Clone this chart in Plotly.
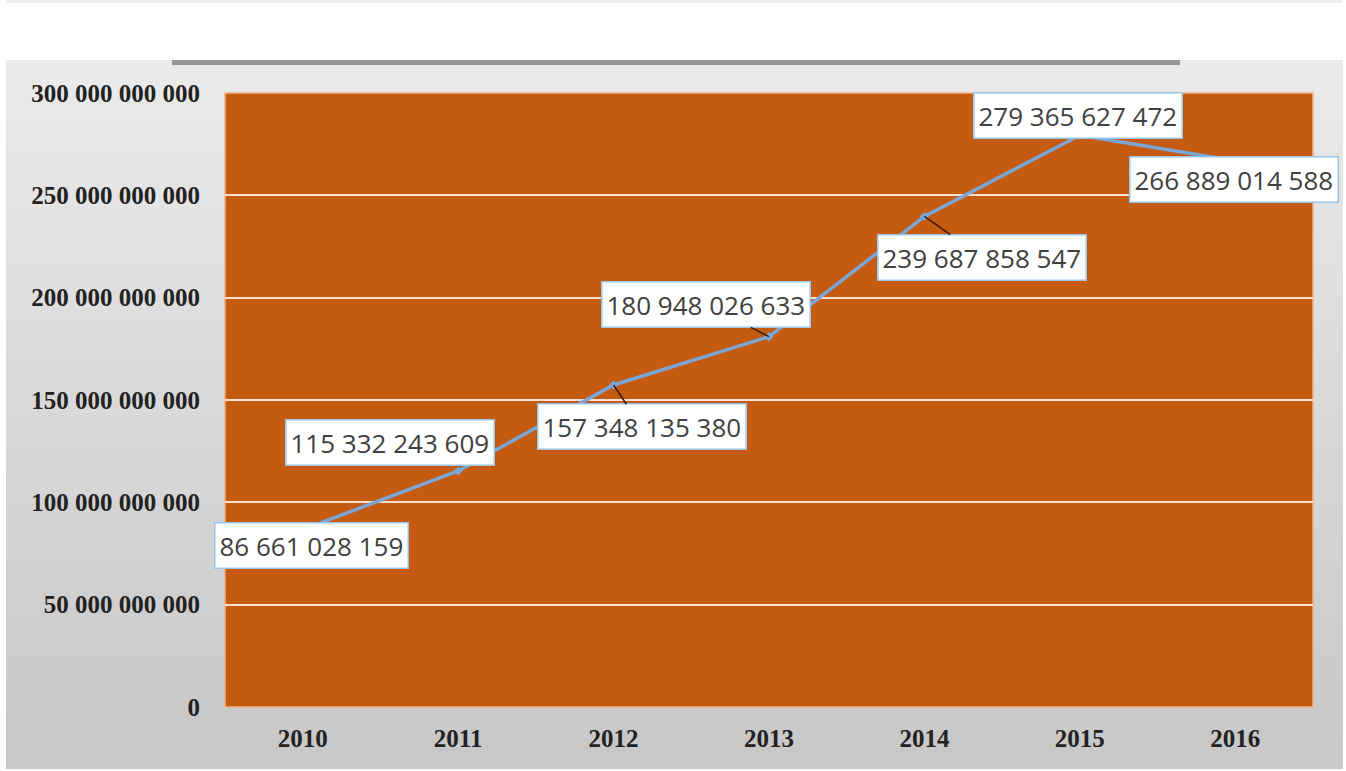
import plotly.graph_objects as go

years = ["2010", "2011", "2012", "2013", "2014", "2015", "2016"]
values = [86661028159, 115332243609, 157348135380, 180948026633,
          239687858547, 279365627472, 266889014588]
labels = ["86 661 028 159", "115 332 243 609", "157 348 135 380", "180 948 026 633",
          "239 687 858 547", "279 365 627 472", "266 889 014 588"]
y_tickvals = [0, 50e9, 100e9, 150e9, 200e9, 250e9, 300e9]
y_ticktext = ["0", "50 000 000 000", "100 000 000 000", "150 000 000 000",
              "200 000 000 000", "250 000 000 000", "300 000 000 000"]

# label offsets (pixels, box centre relative to point) and whether a leader line is drawn
offsets = [(9, 16, False), (-68, -28, False), (28, 42, True), (-63, -32, True),
           (58, 41, True), (-2, -20, False), (-1, 19, False)]

xpos = list(range(len(years)))

fig = go.Figure()
fig.add_trace(go.Scatter(
    x=xpos, y=values, mode="lines+markers",
    line=dict(color="#7aa7d6", width=3.5),
    marker=dict(color="#7aa7d6", size=7, symbol="diamond"),
    hoverinfo="skip", showlegend=False))

W, H = 1346, 771
L, R, T, B = 225, 33, 93, 64
PW, PH = W - L - R, H - T - B


def px_x(x):
    return (x - L) / PW


def px_y(y):
    return 1 - (y - T) / PH


shapes = []
# grey chart-area background as bands (gradient)
top, bot = 60, 768
n = 24
for i in range(n):
    y0 = top + (bot - top) * i / n
    y1 = top + (bot - top) * (i + 1) / n
    g = int(234 - (234 - 200) * i / (n - 1))
    shapes.append(dict(type="rect", xref="paper", yref="paper",
                       x0=px_x(6), x1=px_x(1343),
                       y0=px_y(y1 + 1), y1=px_y(y0),
                       fillcolor=f"rgb({g},{g},{g})", line=dict(width=0), layer="below"))
# shadow line at top
shapes.append(dict(type="rect", xref="paper", yref="paper",
                   x0=px_x(172), x1=px_x(1180), y0=px_y(65), y1=px_y(60),
                   fillcolor="rgb(150,150,150)", line=dict(width=0), layer="below"))
# thin line at very top
shapes.append(dict(type="rect", xref="paper", yref="paper",
                   x0=px_x(6), x1=px_x(1343), y0=px_y(3), y1=px_y(0),
                   fillcolor="rgb(238,238,238)", line=dict(width=0), layer="below"))
# orange plot area
shapes.append(dict(type="rect", xref="paper", yref="paper", x0=0, x1=1, y0=0, y1=1,
                   fillcolor="#C55A11", line=dict(color="#F4B183", width=1.5), layer="below"))

annotations = []
for xi, v, lab, (dx, dy, lead) in zip(xpos, values, labels, offsets):
    annotations.append(dict(
        x=xi, y=v, xref="x", yref="y", text=lab,
        showarrow=True, ax=dx, ay=dy, axref="pixel", ayref="pixel",
        arrowhead=0, arrowwidth=1.5,
        arrowcolor="#3b1a05" if lead else "rgba(0,0,0,0)",
        font=dict(family="Open Sans", size=26, color="#404040"),
        bgcolor="white", bordercolor="#9dc3e6", borderwidth=1.5, borderpad=4))

fig.update_layout(
    width=W, height=H,
    margin=dict(l=L, r=R, t=T, b=B),
    paper_bgcolor="white", plot_bgcolor="rgba(0,0,0,0)",
    shapes=shapes, annotations=annotations,
    xaxis=dict(range=[-0.5, len(years) - 0.5], tickvals=xpos, ticktext=years,
               showgrid=False, zeroline=False, showline=False,
               ticks="", ticklabelstandoff=14,
               tickfont=dict(family="Liberation Serif", size=25, color="#222222", weight="bold")),
    yaxis=dict(range=[0, 300e9], tickvals=y_tickvals, ticktext=y_ticktext,
               showgrid=True, gridcolor="#FBE0CF", gridwidth=1.5, zeroline=False,
               showline=False, ticks="", ticklabelstandoff=24,
               tickfont=dict(family="Liberation Serif", size=25, color="#222222", weight="bold")),
)

fig.write_html("out.html")
